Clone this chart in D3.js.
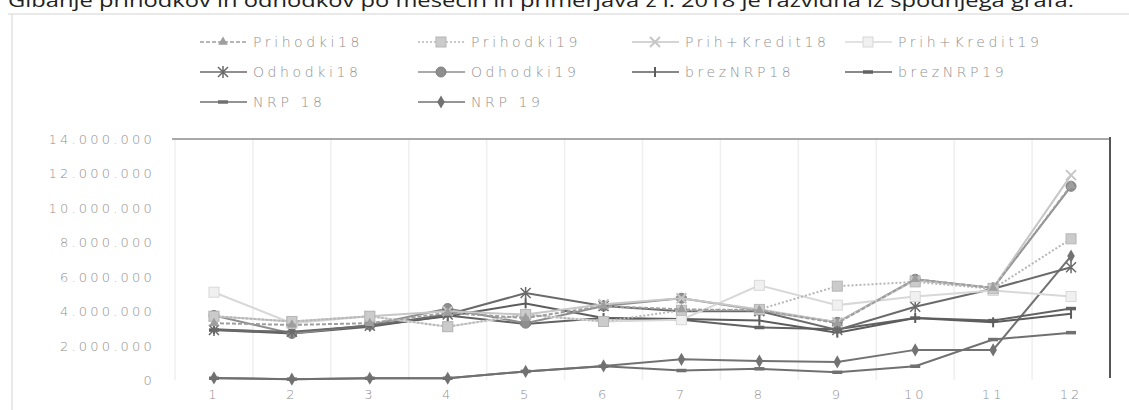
<!DOCTYPE html>
<html>
<head>
<meta charset="utf-8">
<script src="https://cdn.jsdelivr.net/npm/d3@7/dist/d3.min.js"></script>
<style>
  body { margin: 0; background: #fff; }
  svg { display: block; }
  .lbl { font-family: "DejaVu Sans", sans-serif; font-weight: 200; fill: #909090; }
</style>
</head>
<body>
<svg id="chart" width="1129" height="410"></svg>
<script>
// months on the x axis
const months = ["1", "2", "3", "4", "5", "6", "7", "8", "9", "10", "11", "12"];
const yTicks = [0, 2e6, 4e6, 6e6, 8e6, 10e6, 12e6, 14e6];

// monthly values (EUR)
const prihodki18   = [3.30, 3.20, 3.30, 3.90, 3.60, 4.30, 4.10, 4.05, 3.30, 5.85, 5.35, 11.30].map(v => v * 1e6);
const prihodki19   = [3.70, 3.40, 3.70, 3.10, 3.80, 3.40, 4.05, 4.10, 5.45, 5.70, 5.30, 8.20].map(v => v * 1e6);
const prihKredit18 = [3.70, 3.40, 3.70, 4.00, 3.80, 4.40, 4.75, 4.10, 3.35, 5.80, 5.35, 11.90].map(v => v * 1e6);
const prihKredit19 = [5.10, 3.30, 3.70, 3.10, 3.80, 3.40, 3.50, 5.50, 4.35, 4.85, 5.20, 4.85].map(v => v * 1e6);
const odhodki18    = [2.90, 2.80, 3.15, 3.80, 5.05, 4.30, 4.00, 4.00, 2.90, 4.25, 5.30, 6.55].map(v => v * 1e6);
const odhodki19    = [3.75, 2.70, 3.20, 4.15, 3.30, 4.30, 4.75, 4.05, 3.35, 5.85, 5.35, 11.25].map(v => v * 1e6);
const brezNRP18    = [2.95, 2.75, 3.15, 3.70, 4.45, 3.60, 3.55, 3.45, 2.75, 3.60, 3.35, 3.85].map(v => v * 1e6);
const brezNRP19    = [2.90, 2.70, 3.10, 3.75, 3.25, 3.60, 3.50, 3.05, 2.95, 3.60, 3.45, 4.15].map(v => v * 1e6);
const nrp18        = [0.10, 0.05, 0.10, 0.10, 0.50, 0.80, 0.55, 0.65, 0.45, 0.80, 2.35, 2.75].map(v => v * 1e6);
const nrp19        = [0.12, 0.05, 0.10, 0.10, 0.50, 0.82, 1.20, 1.10, 1.05, 1.75, 1.75, 7.20].map(v => v * 1e6);

const series = [
  {name: "Prihodki18",    values: prihodki18,   color: "#9e9e9e", dash: "4,2", marker: "triangle"},
  {name: "Prihodki19",    values: prihodki19,   color: "#b6b6b6", dash: "2,2", marker: "square"},
  {name: "Prih+Kredit18", values: prihKredit18, color: "#c6c6c6", dash: null,  marker: "x"},
  {name: "Prih+Kredit19", values: prihKredit19, color: "#d8d8d8", dash: null,  marker: "square"},
  {name: "Odhodki18",     values: odhodki18,    color: "#6a6a6a", dash: null,  marker: "asterisk"},
  {name: "Odhodki19",     values: odhodki19,    color: "#8e8e8e", dash: null,  marker: "circle"},
  {name: "brezNRP18",     values: brezNRP18,    color: "#5c5c5c", dash: null,  marker: "plus"},
  {name: "brezNRP19",     values: brezNRP19,    color: "#626262", dash: null,  marker: "dash"},
  {name: "NRP 18",        values: nrp18,        color: "#707070", dash: null,  marker: "dash"},
  {name: "NRP 19",        values: nrp19,        color: "#727272", dash: null,  marker: "diamond"}
];

const svg = d3.select("#chart");
const fmt = d3.formatLocale({decimal: ",", thousands: ".", grouping: [3], currency: ["", ""]}).format(",");

// title, cut off by the top of the scan
svg.append("text")
  .attr("x", 8).attr("y", 7)
  .attr("textLength", 1066).attr("lengthAdjust", "spacingAndGlyphs")
  .style("font-family", "'Open Sans', sans-serif").style("font-size", "19px").style("fill", "#222")
  .text("Gibanje prihodkov in odhodkov po mesecih in primerjava z l. 2018 je razvidna iz spodnjega grafa.");

// chart frame
svg.append("line").attr("x1", 8).attr("x2", 1129).attr("y1", 14).attr("y2", 14)
  .attr("stroke", "#e2e2e2").attr("stroke-width", 1.5);
svg.append("line").attr("x1", 12).attr("x2", 12).attr("y1", 14).attr("y2", 410)
  .attr("stroke", "#e2e2e2").attr("stroke-width", 1.5);

const margin = {left: 175, right: 1110, top: 139, bottom: 380};
const x = d3.scaleBand().domain(months).range([margin.left, margin.right]);
const y = d3.scaleLinear().domain([0, 14e6]).range([margin.bottom, margin.top]);
const cx = d => x(d) + x.bandwidth() / 2;

// vertical grid between categories
svg.append("g").selectAll("line")
  .data(months)
  .join("line")
  .attr("x1", d => x(d)).attr("x2", d => x(d))
  .attr("y1", margin.top).attr("y2", margin.bottom)
  .attr("stroke", "#efefef").attr("stroke-width", 1.5);

// top and right border
svg.append("line").attr("x1", margin.left - 3).attr("x2", margin.right)
  .attr("y1", y(14e6)).attr("y2", y(14e6)).attr("stroke", "#8c8c8c").attr("stroke-width", 1.5);
svg.append("line").attr("x1", margin.right).attr("x2", margin.right)
  .attr("y1", y(14e6) - 2).attr("y2", margin.bottom - 2).attr("stroke", "#555").attr("stroke-width", 2);

// y axis labels
const yAxis = svg.append("g")
  .attr("transform", "translate(" + (margin.left - 20) + ",0)")
  .call(d3.axisLeft(y).tickValues(yTicks).tickFormat(fmt).tickSize(0).tickPadding(0));
yAxis.select(".domain").remove();
yAxis.selectAll("text").attr("class", "lbl").style("font-size", "13px")
  .style("letter-spacing", "3.2px").attr("dy", "0.35em");

// x axis labels
const xAxis = svg.append("g")
  .attr("transform", "translate(0," + (margin.bottom + 10) + ")")
  .call(d3.axisBottom(x).tickSize(0).tickPadding(0));
xAxis.select(".domain").remove();
xAxis.selectAll("text").attr("class", "lbl").style("font-size", "13px")
  .style("letter-spacing", "3px");

// marker shapes
function drawMarker(g, type, color, px, py) {
  const s = g.append("g").attr("transform", "translate(" + px + "," + py + ")");
  if (type === "triangle") {
    s.append("path").attr("d", d3.symbol(d3.symbolTriangle, 40)()).attr("fill", color);
  } else if (type === "square") {
    s.append("rect").attr("x", -5).attr("y", -5).attr("width", 10).attr("height", 10)
      .attr("fill", d3.color(color).brighter(0.3)).attr("stroke", color).attr("stroke-width", 1);
  } else if (type === "circle") {
    s.append("circle").attr("r", 5).attr("fill", color).attr("stroke", d3.color(color).darker(0.3));
  } else if (type === "diamond") {
    s.append("path").attr("d", d3.symbol(d3.symbolDiamond, 50)()).attr("fill", color);
  } else if (type === "x") {
    s.append("path").attr("d", "M-5,-5L5,5M-5,5L5,-5").attr("stroke", color).attr("stroke-width", 2);
  } else if (type === "asterisk") {
    s.append("path").attr("d", "M-5,-5L5,5M-5,5L5,-5M0,-6L0,6").attr("stroke", color).attr("stroke-width", 1.5);
  } else if (type === "plus") {
    s.append("path").attr("d", "M0,-5L0,5").attr("stroke", color).attr("stroke-width", 2);
  } else if (type === "dash") {
    s.append("path").attr("d", "M-5,0L5,0").attr("stroke", color).attr("stroke-width", 3.5);
  }
}

// series lines
const line = d3.line().x((d, i) => cx(months[i])).y(d => y(d));
const plot = svg.append("g");
series.slice().reverse().forEach(s => {
  plot.append("path")
    .datum(s.values)
    .attr("fill", "none")
    .attr("stroke", s.color)
    .attr("stroke-width", 2)
    .attr("stroke-dasharray", s.dash)
    .attr("d", line);
  s.values.forEach((v, i) => drawMarker(plot, s.marker, s.color, cx(months[i]), y(v)));
});

// legend
const legCols = [200, 418, 632, 845];
const legRows = [42, 72, 102];
const legend = svg.append("g");
series.forEach((s, i) => {
  const lx = legCols[i % 4], ly = legRows[Math.floor(i / 4)];
  legend.append("line").attr("x1", lx).attr("x2", lx + 47).attr("y1", ly).attr("y2", ly)
    .attr("stroke", s.color).attr("stroke-width", 1.5).attr("stroke-dasharray", s.dash);
  drawMarker(legend, s.marker, s.color, lx + 23, ly);
  legend.append("text").attr("class", "lbl")
    .attr("x", lx + 53).attr("y", ly).attr("dy", "0.35em")
    .style("font-size", "14px").style("letter-spacing", "3.6px")
    .text(s.name);
});
</script>
</body>
</html>
